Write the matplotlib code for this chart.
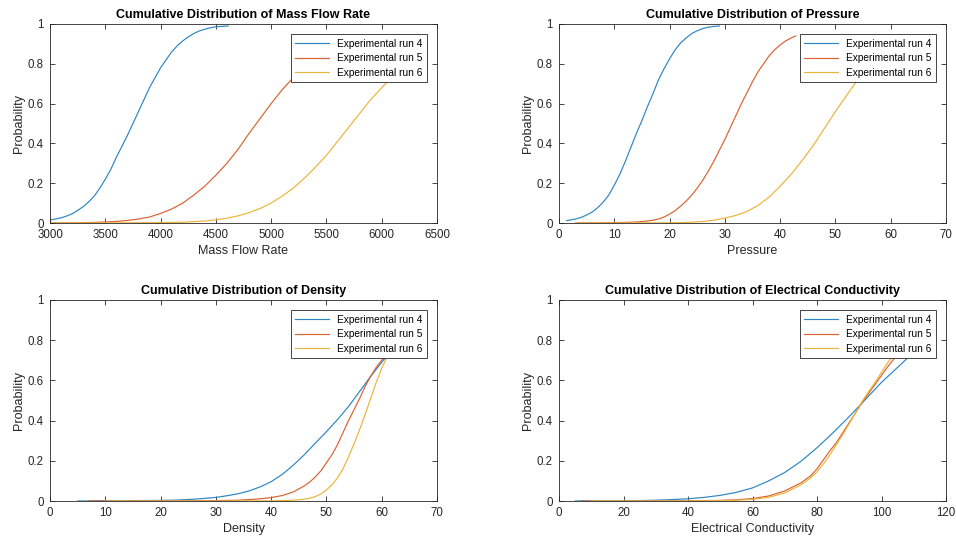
import matplotlib
matplotlib.use('Agg')
import matplotlib.pyplot as plt

plt.rcParams['font.family'] = ['Liberation Sans', 'DejaVu Sans']

labels = ['Experimental run 4', 'Experimental run 5', 'Experimental run 6']
colors = ['#2B86C4', '#D9622F', '#EBB43A']

# mass flow rate
mf_x4 = [3000, 3050, 3100, 3150, 3200, 3250, 3300, 3350, 3400, 3450, 3500, 3550, 3600, 3650, 3700, 3750, 3800,
         3850, 3900, 3950, 4000, 4050, 4100, 4150, 4200, 4250, 4300, 4350, 4400, 4450, 4500, 4550, 4610]
mf_y4 = [0.015, 0.02, 0.026, 0.035, 0.046, 0.063, 0.082, 0.106, 0.135, 0.175, 0.22, 0.27, 0.33, 0.385, 0.44, 0.5, 0.56,
         0.62, 0.68, 0.73, 0.78, 0.82, 0.86, 0.89, 0.915, 0.935, 0.952, 0.965, 0.974, 0.981, 0.986, 0.988, 0.99]
mf_x5 = [3000, 3200, 3400, 3500, 3600, 3700, 3800, 3900, 4000, 4100, 4200, 4300, 4400, 4500, 4600, 4700,
         4800, 4900, 5000, 5100, 5200, 5300, 5400, 5500, 5600, 5700]
mf_y5 = [0.0, 0.001, 0.003, 0.005, 0.008, 0.013, 0.02, 0.03, 0.048, 0.07, 0.1, 0.14, 0.185, 0.24, 0.3, 0.37,
         0.45, 0.525, 0.6, 0.67, 0.73, 0.79, 0.845, 0.885, 0.92, 0.945]
mf_x6 = [3000, 3500, 4000, 4200, 4400, 4500, 4600, 4700, 4800, 4900, 5000, 5100, 5200, 5300, 5400, 5500,
         5600, 5700, 5800, 5900, 6000, 6100, 6200, 6300]
mf_y6 = [0.0, 0.0005, 0.002, 0.004, 0.01, 0.016, 0.024, 0.036, 0.052, 0.073, 0.1, 0.135, 0.175, 0.225, 0.28, 0.34,
         0.41, 0.48, 0.55, 0.62, 0.68, 0.74, 0.795, 0.84]

# pressure
pr_x4 = [1.4, 2, 3, 4, 5, 6, 7, 8, 9, 10, 11, 12, 13, 14, 15, 16, 17, 18, 19, 20, 21, 22, 23, 24, 25, 26, 27, 28, 29]
pr_y4 = [0.012, 0.015, 0.02, 0.028, 0.04, 0.055, 0.077, 0.105, 0.14, 0.19, 0.245, 0.31, 0.38, 0.45, 0.515, 0.585,
         0.65, 0.72, 0.775, 0.825, 0.87, 0.905, 0.93, 0.952, 0.966, 0.977, 0.984, 0.988, 0.99]
pr_x5 = [3, 8, 12, 14, 16, 17, 18, 19, 20, 21, 22, 23, 24, 25, 26, 27, 28, 29, 30, 31, 32, 33, 34, 35, 36,
         37, 38, 39, 40, 41, 42, 42.8]
pr_y5 = [0.0, 0.001, 0.003, 0.005, 0.01, 0.014, 0.02, 0.03, 0.045, 0.062, 0.085, 0.11, 0.14, 0.175, 0.215, 0.26,
         0.31, 0.365, 0.42, 0.48, 0.54, 0.6, 0.655, 0.71, 0.76, 0.8, 0.84, 0.87, 0.895, 0.915, 0.93, 0.94]
pr_x6 = [3, 10, 15, 20, 22, 24, 26, 28, 30, 32, 34, 36, 38, 40, 42, 44, 46, 48, 50, 52, 54, 56, 58]
pr_y6 = [0.0, 0.0, 0.0005, 0.001, 0.002, 0.004, 0.0075, 0.014, 0.025, 0.038, 0.058, 0.088, 0.13, 0.185, 0.245,
         0.315, 0.39, 0.475, 0.56, 0.64, 0.72, 0.79, 0.84]

# density
de_x4 = [5, 10, 15, 20, 22, 24, 26, 28, 30, 32, 34, 36, 38, 40, 42, 44, 46, 48, 50, 52, 54, 56, 58, 60, 61]
de_y4 = [0.0, 0.001, 0.002, 0.003, 0.004, 0.006, 0.009, 0.013, 0.018, 0.026, 0.036, 0.05, 0.07, 0.096, 0.132,
         0.178, 0.23, 0.288, 0.345, 0.405, 0.47, 0.545, 0.62, 0.69, 0.725]
de_x5 = [7, 15, 20, 25, 30, 34, 36, 38, 40, 42, 44, 45, 46, 47, 48, 49, 50, 51, 52, 53, 54, 55, 56, 57, 58,
         59, 60, 60.5]
de_y5 = [0.0, 0.0, 0.0005, 0.001, 0.002, 0.004, 0.007, 0.011, 0.017, 0.027, 0.045, 0.06, 0.075, 0.095, 0.12, 0.15,
         0.19, 0.23, 0.28, 0.34, 0.4, 0.455, 0.51, 0.57, 0.62, 0.665, 0.7, 0.72]
de_x6 = [10, 30, 40, 44, 46, 47, 48, 49, 50, 51, 52, 53, 54, 55, 56, 57, 58, 59, 60, 61, 61.5]
de_y6 = [0.0, 0.0, 0.001, 0.004, 0.009, 0.014, 0.022, 0.035, 0.055, 0.08, 0.115, 0.16, 0.22, 0.285, 0.355,
         0.43, 0.51, 0.59, 0.66, 0.72, 0.75]

# electrical conductivity
ec_x4 = [5, 10, 20, 25, 30, 35, 40, 45, 50, 55, 60, 65, 70, 75, 80, 85, 90, 95, 100, 105, 109]
ec_y4 = [0.0, 0.0005, 0.001, 0.002, 0.004, 0.007, 0.011, 0.018, 0.028, 0.043, 0.065, 0.1, 0.142, 0.197, 0.265,
         0.34, 0.42, 0.505, 0.59, 0.665, 0.725]
ec_x5 = [7, 30, 40, 50, 55, 60, 65, 70, 75, 78, 80, 82, 84, 86, 88, 90, 92, 94, 96, 98, 100, 102, 104, 105]
ec_y5 = [0.0, 0.0, 0.001, 0.003, 0.006, 0.012, 0.025, 0.05, 0.09, 0.125, 0.16, 0.205, 0.25, 0.29, 0.34, 0.39,
         0.44, 0.49, 0.535, 0.58, 0.625, 0.67, 0.71, 0.73]
ec_x6 = [10, 40, 50, 55, 60, 65, 70, 75, 78, 80, 82, 84, 86, 88, 90, 92, 94, 96, 98, 100, 102, 104]
ec_y6 = [0.0, 0.0, 0.002, 0.004, 0.008, 0.018, 0.04, 0.08, 0.115, 0.145, 0.185, 0.23, 0.28, 0.33, 0.385, 0.44,
         0.495, 0.545, 0.59, 0.64, 0.69, 0.735]

panels = [
    ('Mass Flow Rate', [(mf_x4, mf_y4), (mf_x5, mf_y5), (mf_x6, mf_y6)], (3000, 6500), range(3000, 6501, 500)),
    ('Pressure', [(pr_x4, pr_y4), (pr_x5, pr_y5), (pr_x6, pr_y6)], (0, 70), range(0, 71, 10)),
    ('Density', [(de_x4, de_y4), (de_x5, de_y5), (de_x6, de_y6)], (0, 70), range(0, 71, 10)),
    ('Electrical Conductivity', [(ec_x4, ec_y4), (ec_x5, ec_y5), (ec_x6, ec_y6)], (0, 120), range(0, 121, 20)),
]

W, H = 956, 542
boxes = [(50, 24, 437, 223), (559, 24, 946, 223), (50, 300, 437, 501), (559, 300, 946, 501)]

fig = plt.figure(figsize=(W / 100, H / 100), dpi=100)
for (name, series, xl, xt), (l, t, r, b) in zip(panels, boxes):
    ax = fig.add_axes([l / W, 1 - b / H, (r - l) / W, (b - t) / H])
    for (xs, ys), c, lab in zip(series, colors, labels):
        ax.plot(xs, ys, color=c, lw=0.85, label=lab)
    ax.set_xlim(*xl)
    ax.set_ylim(0, 1)
    ax.set_xticks(list(xt))
    ax.set_yticks([0, 0.2, 0.4, 0.6, 0.8, 1])
    ax.set_yticklabels(['0', '0.2', '0.4', '0.6', '0.8', '1'])
    ax.tick_params(direction='in', length=3.5, width=0.6, top=True, right=True,
                   labelsize=8.3, colors='#262626', pad=4.5)
    for s in ax.spines.values():
        s.set_color('#262626')
        s.set_linewidth(0.6)
    ax.set_title('Cumulative Distribution of ' + name, fontsize=9, fontweight='bold', pad=4)
    ax.set_xlabel(name, fontsize=9, color='#262626', labelpad=3)
    ax.set_ylabel('Probability', fontsize=9, color='#262626', labelpad=2)
    leg = ax.legend(loc='upper right', fontsize=7.3, frameon=True, fancybox=False,
                    edgecolor='#262626', framealpha=1, borderaxespad=1.0,
                    handlelength=3.3, labelspacing=0.45, borderpad=0.45)
    leg.get_frame().set_linewidth(0.6)

fig.savefig('out.png', dpi=100)
